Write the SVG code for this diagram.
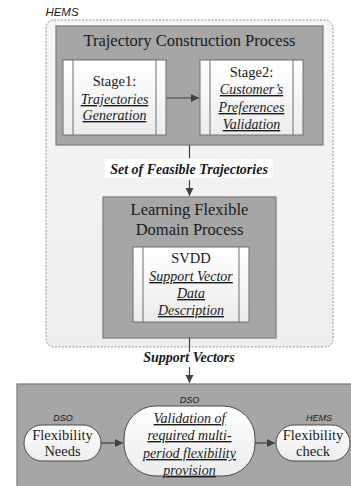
<svg xmlns="http://www.w3.org/2000/svg" width="351" height="486" viewBox="0 0 351 486">
<defs>
<linearGradient id="wg" x1="0" y1="0" x2="0" y2="1"><stop offset="0" stop-color="#ffffff"/><stop offset="1" stop-color="#ececec"/></linearGradient>
<linearGradient id="hg" x1="0" y1="0" x2="0" y2="1"><stop offset="0" stop-color="#f6f6f6"/><stop offset="1" stop-color="#eeeeee"/></linearGradient>
<marker id="ar" markerWidth="10" markerHeight="10" refX="8" refY="4" orient="auto" markerUnits="userSpaceOnUse"><path d="M0,0 L8,4 L0,8 Z" fill="#404040"/></marker>
<style>
.gbox{fill:#a6a6a6;stroke:#7a7a7a;stroke-width:1.2}
.sbox{fill:url(#wg);stroke:#6e6e6e;stroke-width:1}
.pill{fill:url(#wg);stroke:#4a4a4a;stroke-width:1}
.t{font-family:"Liberation Serif","Times New Roman",serif;fill:#1a1a1a;text-anchor:middle}
.ttl{font-size:16.5px}
.n{font-size:14.5px}
.i{font-size:14px;font-style:italic;text-decoration:underline}
.bi{font-size:14px;font-style:italic;font-weight:bold}
.s{font-family:"Liberation Sans",Arial,sans-serif;font-style:italic;fill:#1a1a1a;text-anchor:middle}
.c{stroke:#404040;stroke-width:1.2;fill:none}
</style>
</defs>
<g id="hems">
<rect x="46" y="20" width="287" height="327" rx="8" fill="url(#hg)" stroke="#7a7a7a" stroke-width="0.8" stroke-dasharray="2,1.5"/>
<text class="s" x="62" y="16" font-size="11.5">HEMS</text>
</g>
<g id="trajectory-process">
<rect class="gbox" x="56" y="26" width="267" height="119"/>
<text class="t ttl" x="189.5" y="46">Trajectory Construction Process</text>
</g>
<g id="stage1">
<rect class="sbox" x="63" y="60" width="103" height="75"/>
<line x1="73" y1="60" x2="73" y2="135" stroke="#6e6e6e"/>
<line x1="156" y1="60" x2="156" y2="135" stroke="#6e6e6e"/>
<text class="t n" x="114.5" y="86">Stage1:</text>
<text class="t i" x="114.5" y="104">Trajectories</text>
<text class="t i" x="114.5" y="120">Generation</text>
</g>
<g id="stage2">
<rect class="sbox" x="200" y="60" width="103" height="75"/>
<line x1="210" y1="60" x2="210" y2="135" stroke="#6e6e6e"/>
<line x1="293" y1="60" x2="293" y2="135" stroke="#6e6e6e"/>
<text class="t n" x="251.5" y="77">Stage2:</text>
<text class="t i" x="251.5" y="94">Customer’s</text>
<text class="t i" x="251.5" y="112">Preferences</text>
<text class="t i" x="251.5" y="129">Validation</text>
</g>
<g id="learning-process">
<rect class="gbox" x="103" y="197" width="173" height="141"/>
<text class="t ttl" x="189.5" y="215">Learning Flexible</text>
<text class="t ttl" x="189.5" y="235">Domain Process</text>
</g>
<g id="svdd">
<rect class="sbox" x="133" y="247" width="116" height="75"/>
<line x1="143" y1="247" x2="143" y2="322" stroke="#6e6e6e"/>
<line x1="239" y1="247" x2="239" y2="322" stroke="#6e6e6e"/>
<text class="t n" x="191" y="263">SVDD</text>
<text class="t i" x="191" y="281">Support Vector</text>
<text class="t i" x="191" y="298">Data</text>
<text class="t i" x="191" y="315">Description</text>
</g>
<g id="dso-panel">
<rect class="gbox" x="17" y="384" width="340" height="110"/>
</g>
<g id="flex-needs">
<rect class="pill" x="24" y="425" width="77" height="36" rx="18"/>
<text class="s" x="63" y="421" font-size="9">DSO</text>
<text class="t n" x="62.5" y="440">Flexibility</text>
<text class="t n" x="62.5" y="456">Needs</text>
</g>
<g id="validation">
<rect class="pill" x="124" y="406" width="131" height="70" rx="32"/>
<text class="s" x="189.5" y="403" font-size="9">DSO</text>
<text class="t i" x="189.5" y="423">Validation of</text>
<text class="t i" x="189.5" y="440">required multi-</text>
<text class="t i" x="189.5" y="458">period flexibility</text>
<text class="t i" x="189.5" y="475">provision</text>
</g>
<g id="flex-check">
<rect class="pill" x="276" y="425" width="74" height="36" rx="18"/>
<text class="s" x="319" y="421" font-size="9">HEMS</text>
<text class="t n" x="313" y="440">Flexibility</text>
<text class="t n" x="313" y="456">check</text>
</g>
<g id="connectors">
<line class="c" x1="166" y1="98" x2="199" y2="98" marker-end="url(#ar)"/>
<line class="c" x1="189.5" y1="145" x2="189.5" y2="158"/>
<rect x="105" y="159" width="168" height="19" fill="#ffffff"/>
<text class="t bi" x="189" y="174">Set of Feasible Trajectories</text>
<line class="c" x1="189.5" y1="180" x2="189.5" y2="196" marker-end="url(#ar)"/>
<line class="c" x1="189.5" y1="338" x2="189.5" y2="352"/>
<text class="t bi" x="189" y="362">Support Vectors</text>
<line class="c" x1="189.5" y1="367" x2="189.5" y2="383" marker-end="url(#ar)"/>
<line class="c" x1="101" y1="443" x2="123" y2="443" marker-end="url(#ar)"/>
<line class="c" x1="255" y1="443" x2="275" y2="443" marker-end="url(#ar)"/>
</g>
</svg>
